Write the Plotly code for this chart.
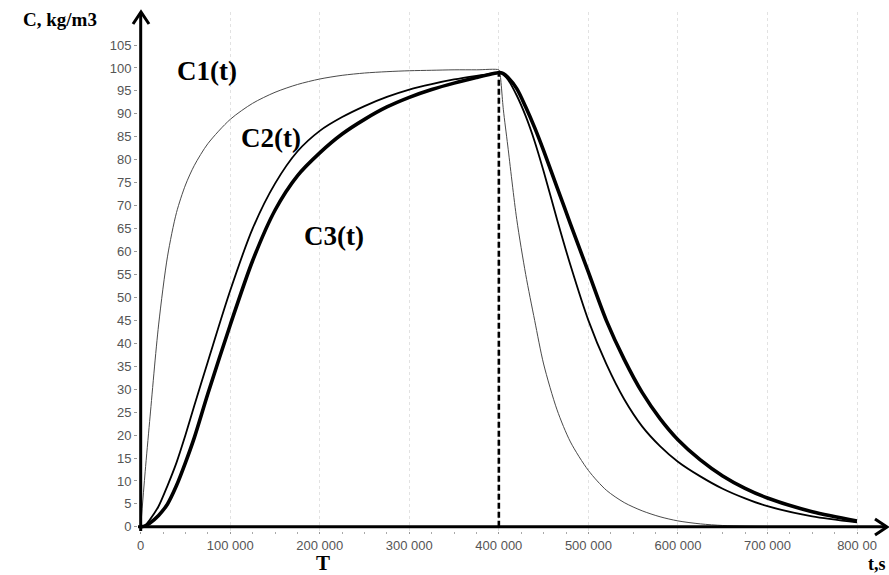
import plotly.graph_objects as go

# ---- data ----
t_k = [0, 5, 10, 20, 30, 40, 50, 60, 75, 100, 125, 150, 175, 200, 225, 250, 275, 300, 325, 350, 375, 400,
       401, 405, 410, 420, 430, 440, 450, 465, 480, 500, 520, 540, 560, 580, 600, 625, 650,
       675, 700, 750, 800]
c1 = [0, 12, 23, 44, 59, 68.5, 74.5, 78.8, 83.5, 88.8, 92.3, 94.7, 96.4, 97.6, 98.4, 98.9, 99.2, 99.4, 99.5, 99.6, 99.6, 99.6,
      99.2, 91, 83, 67, 55, 45, 35.5, 25.5, 18.5, 12.3, 8, 5.3, 3.5, 2.2, 1.3, 0.65, 0.3,
      0.15, 0.08, 0.03, 0]
c2 = [0, 0.3, 1.5, 4.5, 9, 14, 20, 26.5, 36, 51.5, 65, 74.8, 81.8, 86.3, 89.3, 91.7, 93.7, 95.3, 96.5, 97.5, 98.3, 99,
      99, 98.5, 97.5, 94, 89.5, 84, 77.5, 67, 57, 45, 35.5, 27.8, 21.9, 17.6, 14.2, 11, 8.3,
      6.2, 4.5, 2.3, 1.0]
c3 = [0, 0.2, 0.8, 2.5, 5, 9, 14, 19.5, 29, 44, 58, 69, 76.5, 81.5, 85.6, 88.8, 91.5, 93.6, 95.3, 96.7, 97.9, 99,
      99, 98.8, 98, 95.5, 91.5, 87, 82, 74, 66, 55.5, 45, 36.5, 29.3, 23.6, 19.0, 14.6, 11.1,
      8.4, 6.3, 3.3, 1.3]
t = [v * 1000 for v in t_k]

x_tickvals = [0, 100000, 200000, 300000, 400000, 500000, 600000, 700000, 800000]
x_ticktext = ["0", "100 000", "200 000", "300 000", "400 000", "500 000", "600 000", "700 000", "800 00"]
y_tickvals = list(range(0, 106, 5))
switch_t = 400000
switch_c = 99

# ---- layout geometry ----
W, H = 889, 575
L, R, T, B = 138, 2, 12, 44
X_MIN, X_MAX = -3000, 833500
Y_MIN, Y_MAX = -0.9, 112.2


def px(xp):
    return (xp - L) / (W - L - R)


def py(yp):
    return (H - B - yp) / (H - B - T)


serif = "Liberation Serif, Times New Roman, serif"
sans = "Liberation Sans, Arial, sans-serif"

fig = go.Figure()
fig.add_trace(go.Scatter(x=t, y=c1, mode="lines", line=dict(color="#4a4a4a", width=1, shape="spline", smoothing=0.8),
                         name="C1(t)", showlegend=False))
fig.add_trace(go.Scatter(x=t, y=c2, mode="lines", line=dict(color="#000000", width=1.8, shape="spline", smoothing=0.8),
                         name="C2(t)", showlegend=False))
fig.add_trace(go.Scatter(x=t, y=c3, mode="lines", line=dict(color="#000000", width=3.6, shape="spline", smoothing=0.8),
                         name="C3(t)", showlegend=False))

shapes = [
    # dashed switch line
    dict(type="line", xref="x", yref="y", x0=switch_t, x1=switch_t, y0=0, y1=switch_c,
         line=dict(color="#000", width=2.6, dash="6px,3px")),
    # y axis
    dict(type="line", xref="x", yref="paper", x0=0, x1=0, y0=py(531), y1=1,
         line=dict(color="#000", width=3)),
    # x axis
    dict(type="line", xref="paper", yref="y", x0=0, x1=1, y0=0, y1=0,
         line=dict(color="#000", width=3)),
    # arrow heads (chevrons)
    dict(type="path", xref="paper", yref="paper",
         path=f"M {px(133)} {py(24)} L {px(141)} {py(12)} L {px(149)} {py(24)}",
         line=dict(color="#000", width=3)),
    dict(type="path", xref="paper", yref="paper",
         path=f"M {px(875)} {py(519)} L {px(887)} {py(527)} L {px(875)} {py(535)}",
         line=dict(color="#000", width=3)),
]

annotations = [
    dict(text="C, kg/m3", x=px(60), y=py(19), size=19, anchor="center"),
    dict(text="C1(t)", x=px(207), y=py(71), size=27, anchor="center"),
    dict(text="C2(t)", x=px(271), y=py(138), size=27, anchor="center"),
    dict(text="C3(t)", x=px(334), y=py(236), size=27, anchor="center"),
    dict(text="T", x=px(323), y=py(563), size=21, anchor="center"),
    dict(text="t,s", x=px(888), y=py(564), size=18, anchor="right"),
]
ann_objs = []
for a in annotations:
    ann_objs.append(dict(text="<b>" + a["text"] + "</b>", x=a["x"], y=a["y"], xref="paper", yref="paper",
                         showarrow=False, font=dict(family=serif, size=a["size"], color="#000"),
                         xanchor=a["anchor"], yanchor="middle"))

fig.update_layout(
    width=W, height=H,
    margin=dict(l=L, r=R, t=T, b=B, pad=0),
    paper_bgcolor="white", plot_bgcolor="white",
    shapes=shapes, annotations=ann_objs,
    xaxis=dict(range=[X_MIN, X_MAX], tickvals=x_tickvals, ticktext=x_ticktext,
               showgrid=True, gridcolor="#e2e2e2", griddash="dot", gridwidth=1,
               zeroline=False, showline=False, ticks="outside", ticklen=2, tickcolor="#999",
               tickfont=dict(family=sans, size=13, color="#555"),
               minor=dict(dtick=25000, tick0=0, ticks="outside", ticklen=2, tickcolor="#aaa", showgrid=False)),
    yaxis=dict(range=[Y_MIN, Y_MAX], tickvals=y_tickvals, showgrid=False,
               zeroline=False, showline=False, ticks="outside", ticklen=3, tickcolor="#999",
               tickfont=dict(family=sans, size=13, color="#555")),
)

fig.write_html("out.html")
